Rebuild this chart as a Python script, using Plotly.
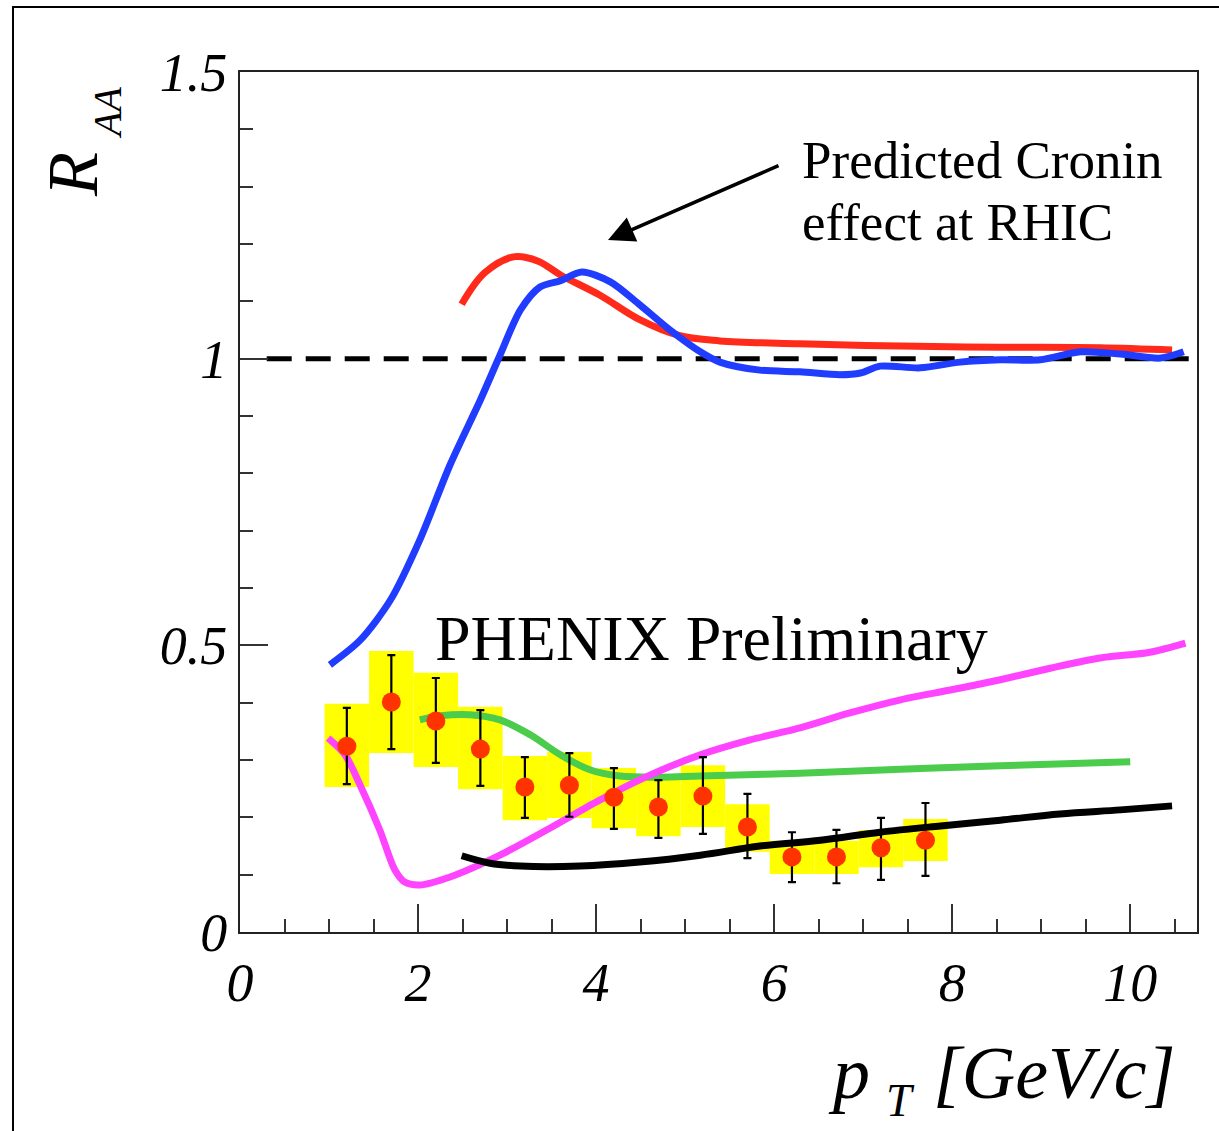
import plotly.graph_objects as go

# ---- data ----
x_pts = [1.2, 1.7, 2.2, 2.7, 3.2, 3.7, 4.2, 4.7, 5.2, 5.7, 6.2, 6.7, 7.2, 7.7]
raa = [0.324, 0.401, 0.368, 0.319, 0.253, 0.256, 0.235, 0.218, 0.237, 0.183, 0.131, 0.131, 0.147, 0.160]
stat_up = [0.067, 0.082, 0.075, 0.068, 0.052, 0.056, 0.051, 0.047, 0.068, 0.058, 0.043, 0.047, 0.052, 0.065]
stat_down = [0.066, 0.082, 0.073, 0.064, 0.054, 0.055, 0.055, 0.054, 0.066, 0.054, 0.044, 0.046, 0.056, 0.062]
sys_low = [0.253, 0.312, 0.288, 0.249, 0.195, 0.199, 0.181, 0.167, 0.183, 0.140, 0.101, 0.101, 0.113, 0.124]
sys_high = [0.398, 0.490, 0.452, 0.393, 0.307, 0.314, 0.286, 0.270, 0.291, 0.223, 0.159, 0.159, 0.178, 0.197]
bin_width = 0.5

red_x = [2.49, 2.75, 3.09, 3.35, 3.6, 4.04, 4.49, 4.94, 5.39, 6.29, 7.42, 8.54, 9.66, 10.47]
red_y = [1.095, 1.150, 1.178, 1.170, 1.146, 1.111, 1.068, 1.040, 1.031, 1.026, 1.022, 1.020, 1.019, 1.015]

blue_x = [1.01, 1.35, 1.69, 2.02, 2.36, 2.70, 2.92, 3.15, 3.37, 3.60, 3.84, 4.16, 4.49, 4.83, 5.17, 5.39,
          5.84, 6.29, 6.74, 6.97, 7.19, 7.64, 8.09, 8.54, 8.99, 9.44, 9.89, 10.34, 10.6]
blue_y = [0.466, 0.509, 0.579, 0.684, 0.815, 0.928, 1.006, 1.085, 1.125, 1.136, 1.151, 1.134, 1.094, 1.050,
          1.012, 0.994, 0.980, 0.977, 0.972, 0.975, 0.987, 0.984, 0.994, 0.998, 0.998, 1.012, 1.008, 1.001, 1.012]

green_x = [2.02, 2.25, 2.58, 2.92, 3.26, 3.60, 3.93, 4.27, 4.72, 5.17, 6.29, 7.42, 8.54, 10.0]
green_y = [0.370, 0.377, 0.379, 0.370, 0.344, 0.309, 0.283, 0.272, 0.270, 0.272, 0.277, 0.284, 0.290, 0.297]

magenta_x = [0.99, 1.18, 1.35, 1.57, 1.74, 1.85, 2.02, 2.36, 2.92, 3.48, 4.04, 4.61, 5.17, 5.73, 6.29,
             6.85, 7.42, 7.98, 8.54, 9.10, 9.66, 10.22, 10.62]
magenta_y = [0.338, 0.309, 0.256, 0.178, 0.108, 0.087, 0.082, 0.096, 0.134, 0.181, 0.230, 0.274, 0.309,
             0.335, 0.356, 0.382, 0.405, 0.422, 0.440, 0.460, 0.478, 0.488, 0.504]

black_x = [2.49, 2.81, 3.15, 3.82, 4.49, 5.17, 5.84, 6.52, 7.19, 7.87, 8.54, 9.21, 9.89, 10.47]
black_y = [0.133, 0.120, 0.115, 0.115, 0.122, 0.134, 0.150, 0.160, 0.174, 0.185, 0.195, 0.206, 0.213, 0.220]

ref_x = [0.3, 10.75]
ref_y = [1.0, 1.0]

x_ticks = [0, 2, 4, 6, 8, 10]
x_ticklabels = ["0", "2", "4", "6", "8", "10"]
y_ticks = [0, 0.5, 1, 1.5]
y_ticklabels = ["0", "0.5", "1", "1.5"]

# ---- layout geometry (pixels) ----
W, H = 1219, 1131
L, R, T, B = 240, 1197, 72, 932
PW, PH = R - L, B - T


def px(xp):
    return (xp - L) / PW


def py(yp):
    return (B - yp) / PH


SERIF = "Liberation Serif, Times New Roman, serif"

fig = go.Figure()

# systematic boxes
fig.add_trace(go.Bar(
    x=x_pts, y=[h - l for h, l in zip(sys_high, sys_low)], base=sys_low, width=bin_width,
    marker=dict(color="#ffff00", line=dict(width=0)), showlegend=False, hoverinfo="skip"))

# reference dashed line
fig.add_trace(go.Scatter(x=ref_x, y=ref_y, mode="lines",
                         line=dict(color="black", width=5, dash="25px,14px"), showlegend=False))

curve_style = dict(mode="lines", line_shape="spline", showlegend=False)
fig.add_trace(go.Scatter(x=red_x, y=red_y, line=dict(color="#ff2a1a", width=7, smoothing=1.0), **curve_style))
fig.add_trace(go.Scatter(x=blue_x, y=blue_y, line=dict(color="#1f3cff", width=7, smoothing=0.8), **curve_style))
fig.add_trace(go.Scatter(x=green_x, y=green_y, line=dict(color="#4ccc4c", width=7, smoothing=1.0), **curve_style))
fig.add_trace(go.Scatter(x=magenta_x, y=magenta_y, line=dict(color="#ff44ff", width=7, smoothing=0.8), **curve_style))
fig.add_trace(go.Scatter(x=black_x, y=black_y, line=dict(color="black", width=7, smoothing=1.0), **curve_style))

# data points
fig.add_trace(go.Scatter(
    x=x_pts, y=raa, mode="markers",
    marker=dict(color="#ff3300", size=19, line=dict(width=0)),
    error_y=dict(type="data", array=stat_up, arrayminus=stat_down, color="black", thickness=2.2, width=4),
    showlegend=False))

axis_common = dict(
    showline=True, linecolor="#222", linewidth=2, mirror=True, showgrid=False, zeroline=False,
    ticks="inside", tickcolor="#333", tickwidth=2, ticklen=28,
    tickfont=dict(family=SERIF, size=54, color="black", style="italic"),
)

fig.update_xaxes(range=[0, 10.75], tickmode="array", tickvals=x_ticks, ticktext=x_ticklabels,
                 minor=dict(ticks="inside", ticklen=13, tickwidth=2, tickcolor="#333", dtick=0.5, tick0=0),
                 ticklabelstandoff=2, **axis_common)
fig.update_yaxes(range=[0, 1.5], tickmode="array", tickvals=y_ticks, ticktext=y_ticklabels,
                 minor=dict(ticks="inside", ticklen=13, tickwidth=2, tickcolor="#333", dtick=0.1, tick0=0),
                 ticklabelstandoff=0, **axis_common)

annotations = [
    # y title
    dict(x=px(73), y=py(175), text="R", textangle=-90, showarrow=False, xanchor="center", yanchor="middle",
         font=dict(family=SERIF, size=72, color="black", style="italic")),
    dict(x=px(107), y=py(113), text="AA", textangle=-90, showarrow=False, xanchor="center", yanchor="middle",
         font=dict(family=SERIF, size=40, color="black", style="italic")),
    # x title
    dict(x=px(849), y=py(1073), text="p", showarrow=False, xanchor="center", yanchor="middle",
         font=dict(family=SERIF, size=74, color="black", style="italic")),
    dict(x=px(900), y=py(1100), text="T", showarrow=False, xanchor="center", yanchor="middle",
         font=dict(family=SERIF, size=46, color="black", style="italic")),
    dict(x=px(1178), y=py(1073), text="[GeV/c]", showarrow=False, xanchor="right", yanchor="middle",
         font=dict(family=SERIF, size=74, color="black", style="italic")),
    # texts
    dict(x=px(800), y=py(160), text="Predicted Cronin", showarrow=False, xanchor="left", yanchor="middle",
         font=dict(family=SERIF, size=53, color="black")),
    dict(x=px(800), y=py(222), text="effect at RHIC", showarrow=False, xanchor="left", yanchor="middle",
         font=dict(family=SERIF, size=53, color="black")),
    dict(x=px(433), y=py(638), text="PHENIX Preliminary", showarrow=False, xanchor="left", yanchor="middle",
         font=dict(family=SERIF, size=64, color="black")),
    # arrow
    dict(x=px(608), y=py(240), ax=172, ay=-75, text="", showarrow=True, arrowhead=2, arrowsize=1.5,
         arrowwidth=3.5, arrowcolor="black", xref="paper", yref="paper"),
]
for a in annotations:
    a.setdefault("xref", "paper")
    a.setdefault("yref", "paper")

fig.update_layout(
    width=W, height=H,
    margin=dict(l=L, r=W - R, t=T, b=H - B),
    paper_bgcolor="white", plot_bgcolor="white",
    barmode="overlay",
    annotations=annotations,
    shapes=[dict(type="rect", xref="paper", yref="paper",
                 x0=px(13), x1=px(1230), y0=py(1145), y1=py(7),
                 line=dict(color="black", width=2), fillcolor="rgba(0,0,0,0)", layer="below")],
)

fig.write_html("out.html")
